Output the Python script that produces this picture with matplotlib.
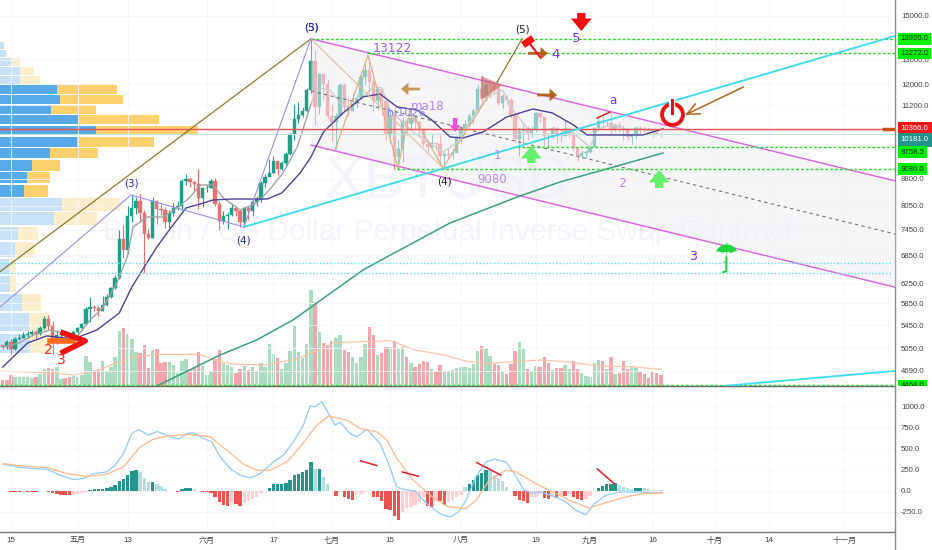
import numpy as np
import matplotlib
matplotlib.use('Agg')
import matplotlib.pyplot as plt
from matplotlib.lines import Line2D
from matplotlib.ticker import NullLocator
from matplotlib.transforms import Bbox, TransformedBbox, blended_transform_factory

plt.rcParams['font.family'] = ['Liberation Sans', 'Noto Sans CJK SC', 'DejaVu Sans']

# daily bars, day 0 = 15 April, one row of ten per line
closes = [5070, 5150, 5040, 5210, 5230, 5280, 5290, 5320, 5300, 5390,
          5560, 5440, 5150, 5270, 5270, 5280, 5240, 5320, 5390, 5470,
          5750, 5790, 5770, 5710, 5820, 5970, 6160, 6350, 7230, 6960,
          7800, 8000, 8190, 7870, 7350, 7260, 8190, 7970, 7950, 7630,
          7880, 7990, 8060, 8740, 8800, 8720, 8660, 8270, 8550, 8550,
          8730, 8110, 7670, 7800, 7810, 8000, 7930, 7630, 8010, 7930,
          8150, 8230, 8690, 8860, 8980, 9320, 9080, 9270, 9530, 10200,
          10700, 10860, 11000, 11780, 12930, 11130, 12390, 12000, 10800, 10600,
          10800, 11970, 11150, 10980, 11250, 11480, 12300, 12570, 12100, 11350,
          11800, 11350, 10200, 10850, 9450, 9690, 10630, 10530, 10750, 10590,
          10320, 9850, 9780, 9880, 9850, 9480, 9530, 9500, 9590, 10080,
          10400, 10530, 10820, 10980, 11800, 11470, 11980, 11970, 11850, 11280,
          11550, 11400, 10860, 10020, 10300, 10360, 10230, 10340, 10920, 10760,
          10130, 10130, 10400, 10140, 10130, 10360, 10170, 9720, 9490, 9580,
          9600, 9770, 10380, 10620, 10580, 10580, 10310, 10480, 10400, 10310,
          10100, 10160, 10410, 10360, 10360, 10310, 10260, 10190, 10160]
highs = [5110, 5190, 5200, 5240, 5290, 5320, 5350, 5360, 5360, 5440,
         5620, 5640, 5520, 5360, 5340, 5310, 5290, 5370, 5420, 5490,
         5780, 5970, 5820, 5800, 6000, 6030, 6180, 6420, 7450, 7570,
         8040, 8340, 8290, 8370, 7950, 7470, 8300, 8210, 8090, 8030,
         7950, 8140, 8170, 8800, 8950, 8820, 8730, 9090, 8580, 8620,
         8790, 8830, 8170, 7930, 7900, 8140, 8060, 7960, 8030, 8050,
         8220, 8310, 8730, 8950, 9390, 9470, 9340, 9320, 9610, 10210,
         11230, 11300, 11150, 11850, 13920, 13400, 12450, 12400, 12200, 11200,
         10900, 12050, 12050, 11450, 11650, 11600, 12370, 12820, 13122, 12200,
         11900, 11850, 11450, 11050, 11030, 9990, 10780, 10750, 11100, 10800,
         10650, 10340, 9900, 10180, 9900, 10180, 9620, 9720, 9730, 10130,
         10470, 10680, 10900, 11080, 11950, 12320, 12150, 12050, 12020, 11950,
         11620, 11590, 11450, 10880, 10440, 10510, 10470, 10470, 10960, 10960,
         10770, 10240, 10450, 10430, 10340, 10660, 10390, 10300, 9720, 9680,
         9680, 9800, 10430, 10780, 10800, 10630, 10900, 10560, 10600, 10480,
         10380, 10230, 10450, 10450, 10420, 10380, 10370, 10290, 10220]
lows = [5040, 5040, 4950, 5020, 5190, 5220, 5220, 5260, 5230, 5280,
        5380, 5370, 4960, 5120, 5230, 5220, 5180, 5200, 5310, 5370,
        5460, 5510, 5700, 5620, 5700, 5810, 5960, 6130, 6340, 6800,
        6890, 7640, 7840, 7670, 6470, 7230, 7250, 7580, 7820, 7500,
        7500, 7800, 7940, 7950, 8620, 8570, 8430, 7970, 8020, 8430,
        8530, 8040, 7450, 7590, 7460, 7780, 7800, 7520, 7510, 7700,
        7800, 8060, 8160, 8580, 8900, 8960, 8920, 9060, 9150, 9510,
        10000, 10560, 10780, 10940, 11650, 10500, 10870, 11400, 10700, 9950,
        9700, 10800, 11000, 10800, 10980, 11100, 11400, 11950, 11600, 11000,
        11070, 10850, 9980, 9900, 9080, 9080, 9300, 10120, 10350, 10330,
        10100, 9800, 9600, 9740, 9680, 9200, 9130, 9400, 9380, 9580,
        9900, 10350, 10500, 10570, 10960, 11200, 11370, 11450, 11650, 11200,
        11100, 11220, 10750, 9900, 9480, 9800, 9990, 10100, 10250, 10600,
        9800, 9750, 10060, 9890, 9930, 10120, 10060, 9650, 9330, 9400,
        9450, 9570, 9760, 10300, 10400, 10470, 10200, 10300, 10250, 9980,
        10000, 9870, 10050, 10200, 10260, 10260, 10080, 10160, 10100]
first_open = 5100

volumes = [18, 18, 32, 28, 27, 27, 27, 24, 26, 36,
           52, 54, 52, 58, 20, 23, 26, 30, 27, 33,
           90, 73, 43, 52, 74, 45, 58, 86, 164, 174,
           155, 142, 102, 98, 122, 55, 107, 110, 68, 72,
           72, 62, 38, 74, 80, 52, 58, 102, 60, 33,
           44, 80, 107, 70, 64, 58, 38, 52, 60, 48,
           56, 46, 68, 57, 125, 96, 84, 50, 70, 104,
           184, 103, 84, 126, 288, 251, 161, 130, 123, 134,
           144, 154, 108, 103, 88, 70, 86, 126, 178, 153,
           94, 98, 116, 118, 136, 114, 116, 88, 70, 56,
           66, 74, 72, 50, 42, 62, 44, 45, 48, 55,
           57, 57, 54, 66, 106, 120, 110, 90, 66, 63,
           44, 36, 65, 105, 131, 113, 52, 44, 60, 58,
           88, 68, 48, 54, 54, 64, 52, 74, 52, 40,
           30, 28, 68, 78, 76, 50, 88, 36, 38, 74,
           52, 56, 54, 42, 36, 24, 46, 40, 32]
volume_sides = ('rrrgggggrg' 'grrggrrggg' 'ggrrgggggr' 'gggrrrgrrr' 'gggggrrrgg'
                'grrgggrrgr' 'ggggggrggg' 'gggggrgrrr' 'ggrrggggrr' 'grrgrggrgr'
                'rrrgrrgggg' 'gggggrggrr' 'grrrggrggr' 'rrgrrggrrg' 'ggggrgrgrr'
                'rggrrrrrr')
volume_ma_days = [-3, 5, 11, 15, 21, 25, 29, 35, 45, 49, 53, 61, 69, 77, 80, 85, 91, 97,
                  104, 109, 114, 121, 127, 133, 141, 149, 156]
volume_ma = [45, 42, 38, 33, 48, 68, 86, 95, 95, 78, 66, 63, 83, 126, 131, 133, 136, 108,
             93, 75, 68, 73, 78, 73, 60, 58, 50]

ma_fast_days = [-2, 2, 5.3, 9.4, 12.5, 15.8, 19, 22, 25.4, 27.9, 29.3, 32.7, 36.5, 39.9, 43,
                45.4, 48.5, 51, 55, 59, 62, 65.3, 68.7, 71.8, 73.2, 74, 76.6, 79, 81.4, 84.5,
                87, 89, 91, 93.4, 96.5, 100, 103.7, 107, 110, 114.3, 118, 120.5, 124, 127,
                131, 135, 139, 140.7, 143.8, 147.4, 152, 155.8]
ma_fast = [5073, 5140, 5276, 5362, 5307, 5242, 5542, 5765, 6255, 6812, 7515, 7766, 7766, 7998,
           8290, 8623, 8623, 8263, 7945, 8130, 8483, 8970, 9767, 11134, 11770, 11850, 11770,
           11280, 11099, 11510, 11888, 11850, 11024, 10670, 10260, 9927, 9608, 9896, 10565,
           11510, 11770, 11024, 10366, 10326, 10366, 10226, 9758, 10326, 10496, 10366, 10326,
           10326]
ma18_days = [-2, 4, 8.6, 15, 20.6, 26, 29, 32, 35, 38, 42, 45.4, 48.5, 53, 58, 61.5, 65, 69.4,
             72, 75, 79.7, 84.5, 88.6, 92.7, 97.5, 101, 105.4, 108.5, 113.3, 119, 125.3, 130,
             135, 138.3, 141.4, 148, 151.7, 156.5]
ma18 = [4750, 5140, 5260, 5208, 5362, 5670, 6174, 6593, 7037, 7442, 7998, 8103, 8210, 8236,
        8236, 8236, 8400, 8970, 9451, 10260, 10917, 11510, 11618, 11134, 11024, 10670, 10092,
        10059, 10260, 10776, 11061, 10917, 10496, 10158, 10158, 10158, 10158, 10366]
ma_slow_days = [35, 50.2, 59, 67.7, 84.5, 89.3, 105.4, 121.5, 131.8, 143.8, 156.5]
ma_slow = [4464, 4941, 5192, 5542, 6528, 6767, 7614, 8290, 8709, 9117, 9576]

hist = [0, 0, -12, -12, -12, 0, -16, -16, -16, -4,
        -4, -12, -24, -40, -48, -48, -56, -52, -40, -28,
        -12, 12, 16, 16, 20, 28, 40, 68, 116, 140,
        188, 228, 248, 220, 152, 100, 100, 76, 56, 20,
        0, -8, -12, 20, 36, 36, 16, 0, -12, -20,
        -32, -80, -132, -168, -180, -144, -160, -180, -152, -128,
        -104, -80, -24, 0, 36, 76, 80, 84, 96, 132,
        180, 200, 216, 240, 344, 256, 260, 160, 80, 0,
        -64, -20, -72, -96, -112, -48, -40, -12, -8, -72,
        -80, -120, -220, -232, -300, -352, -248, -208, -192, -168,
        -140, -80, -180, -192, -120, -120, -168, -140, -112, -80,
        -48, 44, 80, 128, 180, 212, 248, 240, 180, 140,
        112, 48, 0, -60, -112, -120, -152, -80, -72, -40,
        -88, -100, -72, -88, -60, -60, -40, -72, -100, -112,
        -100, -60, 0, 28, 52, 80, 80, 88, 72, 48,
        28, 16, 32, 32, 28, 20, 12, 8, 4]
macd_days = [-1.8, 1.4, 5.4, 8.6, 11.8, 15, 17.4, 19.8, 23, 25, 27, 29, 30.6, 33, 35, 37.4, 40.2,
             42.2, 43.8, 46.2, 48.2, 50.2, 52.6, 55, 57.4, 59.8, 63, 65.4, 67.8, 70.2, 71.8, 73,
             74.6, 76.2, 77.8, 79, 81.4, 83, 85.4, 88.6, 90.6, 92.6, 94.2, 97, 99.8, 103, 105.4,
             107.4, 109.2, 111.6, 114, 116, 118.8, 120.8, 123.2, 125.2, 127.2, 130.8, 133.2,
             135.6, 138, 140, 142.8, 146, 150.8, 156.4]
macd = [314, 282, 262, 254, 183, 131, 143, 202, 222, 302, 441, 679, 727, 659, 703, 659, 611,
        679, 687, 619, 580, 401, 262, 183, 151, 202, 341, 421, 580, 778, 1004, 996,
        1056, 917, 778, 810, 679, 639, 727, 560, 322, 44, 16, -4, -155, -274, -314,
        -254, -115, 163, 341, 373, 341, 202, 4, -28, -16, -75, -135,
        -234, -286, -155, -56, -16, -16, -28]
signal_days = [-1.8, 2.2, 8.6, 13.4, 18.2, 23, 27, 31, 34.2, 37.4, 43, 47.8, 51.8, 55.8, 59, 62.2,
               66.2, 69.4, 73.4, 76.2, 80.6, 83.8, 87.8, 90.2, 92.6, 96.6, 100.6, 104.6, 109.2,
               111.6, 114.8, 118.8, 121.2, 126, 130, 134, 138.8, 142, 146.8, 151.6, 156.4]
signal = [322, 294, 274, 202, 171, 195, 282, 520, 611, 647, 667, 639, 480, 314, 242, 242,
          341, 520, 778, 885, 838, 738, 699, 599, 381, 123, -56, -187, -214,
          -115, 123, 242, 222, 83, -16, -115, -206, -155, -83, -36, -28]

# volume profile, rows from the top down
profile_blue = [12, 18, 35, 60, 60, 170, 180, 153, 233, 288, 232, 149, 97, 80, 72,
                185, 163, 53, 45, 27, 30, 65, 87, 90]
profile_total = [12, 18, 60, 103, 120, 352, 370, 288, 477, 593, 463, 295, 180, 150, 144,
                 360, 290, 113, 105, 45, 47, 123, 147, 155]
profile_bottom = 4951
profile_step = 369.5

price_ticks = [15000, 13000, 12000, 11200, 8800, 8050, 7450, 6850, 6250, 5850, 5450, 5050, 4690]
macd_ticks = [1000, 750, 500, 250, 0, -250]
date_ticks = [0, 16, 28, 47, 63, 77, 91, 108, 126, 139, 154, 169, 182, 200]
date_labels = ['15', '五月', '13', '六月', '17', '七月', '15', '八月', '19', '九月', '16', '十月', '14', '十一月']
price_tags = [(13920, '13920.0', '#00f000', 13920), (13272, '13272.0', '#00f000', 13272),
              (10366, '10366.0', '#f01818', 10366), (10181, '10181.0', '#23938b', 9993),
              (9758.5, '9758.5', '#00f000', 9607), (9080, '9080.0', '#00f000', 9080),
              (4464, '4464.0', '#00f000', 4464)]

days = np.arange(-2, 157)
closes = np.array(closes, dtype=float)
opens = np.r_[first_open, closes[:-1]]

W, H = 932, 550
XLIM = (-2.64, 212.2)
fig = plt.figure(figsize=(W / 100, H / 100), dpi=100, facecolor='white')
ax = fig.add_axes([0, (H - 386) / H, 895 / W, 386 / H])
ax_macd = fig.add_axes([0, (H - 531.5) / H, 895 / W, 145.5 / H])

ax.set_yscale('log')
ax.set_ylim(4464, 15807)
ax.set_xlim(*XLIM)
ax.patch.set_visible(False)

# volume profile and volume sit behind the price drawing
ax_vp = ax.twiny()
ax_vp.set_xlim(0, 895 * 3)
ax_vol = ax.twinx()
ax_vol.set_ylim(0, 386 * 3)
ax_vp.set_zorder(1)
ax_vol.set_zorder(2)
ax.set_zorder(3)
ax_vp.axis('off')
ax_vol.axis('off')
ax.yaxis.tick_right()

for i, (blue, total) in enumerate(zip(profile_blue, profile_total)):
    low = profile_bottom + (len(profile_blue) - 1 - i) * profile_step
    solid = 5 <= i <= 14
    ax_vp.barh(low + profile_step / 2, blue, height=profile_step * 0.88, color='#56aae8' if solid else '#c9e1f6')
    ax_vp.barh(low + profile_step / 2, total - blue, left=blue, height=profile_step * 0.88,
               color='#fcd16e' if solid else '#fbeecd')

vol_colors = ['#abdcc0' if s == 'g' else '#f3a5ae' for s in volume_sides]
ax_vol.bar(days, volumes, width=0.82, color=vol_colors)
ax_vol.plot(volume_ma_days, volume_ma, color='#f9c4a8', lw=0.9)

# watermark
for text, y, size in [('XBTUSD', 0.525, 44), ('Bitcoin / US Dollar Perpetual Inverse Swap Contract', 0.40, 21.5)]:
    ax.text(0.5, y, text, transform=ax.transAxes, color='#f3f5fb', fontsize=size, ha='center', va='center', zorder=0)

ax.grid(True, color='#f6f6f8', lw=0.6)
ax.set_axisbelow(True)

# candles
up = closes >= opens
body_low = np.minimum(opens, closes)
body_high = np.maximum(opens, closes)
candle_colors = np.where(up, '#1f9e88', '#ea6f72')
ax.vlines(days, lows, highs, colors=candle_colors, lw=0.8, zorder=3)
ax.bar(days, body_high - body_low, bottom=body_low, width=0.8, color=candle_colors,
       edgecolor=candle_colors, lw=0.3, zorder=3)

ax.plot(ma_fast_days, ma_fast, color='#a3a3a3', lw=1, zorder=3)

# parallel channel from the top
channel_days = [72, XLIM[1]]
channel_top = [13920, 8740]
channel_mid = [11730, 7345]
channel_low = [9828, 6171]
ax.fill_between(channel_days, channel_low, channel_top, color='#f0f0f5', alpha=0.55, lw=0, zorder=4)
ax.plot(channel_days, channel_top, color='#d966e0', lw=1.05, zorder=5)
ax.plot(channel_days, channel_low, color='#d966e0', lw=1.05, zorder=5)
ax.plot(channel_days, channel_mid, color='#777777', lw=0.8, ls=(0, (3, 3)), zorder=5)
ax.plot(ma_slow_days, ma_slow, color='#3d9f86', lw=1.1, zorder=5)
ax.plot(ma18_days, ma18, color='#4d4296', lw=1, zorder=5)

# levels
ax.plot([XLIM[0], XLIM[1]], [10181, 10181], color='#c3e5e2', lw=0.8, zorder=4.5)
ax.plot([XLIM[0], XLIM[1]], [10366, 10366], color='#f05050', lw=1, zorder=5)
green_dash = (0, (2, 1.5))
for day, level in [(72, 13920), (85.5, 13272), (121.5, 9758.5), (92.7, 9080), (XLIM[0], 4478)]:
    ax.plot([day, XLIM[1]], [level, level], color='#22dd22', lw=1, ls=green_dash, zorder=5)
for level in [6682, 6464]:
    ax.plot([XLIM[0], 211.5], [level, level], color='#55e5ee', lw=1, ls=(0, (1, 1.5)), zorder=5)

# drawings
ax.plot([XLIM[0], 72], [6491, 13920], color='#8a7d2a', lw=0.9, zorder=5)
ax.plot([XLIM[0], 28.8, 55.9, 72], [5782, 8346, 7515, 13920], color='#9d90e4', lw=0.8, zorder=5)
ax.plot([55.9, XLIM[1]], [7515, 14049], color='#3fdcea', lw=1.35, zorder=5)
ax.plot([171, XLIM[1]], [4464, 4690], color='#3fdcea', lw=1.35, zorder=5)
ax.plot([77.8, 85.7, 92.9, 95.8, 103.7, 116.7], [9671, 13201, 9117, 11025, 9117, 12084],
        color='#dcae7c', lw=0.85, zorder=5)
ax.plot([72, 103.7], [13920, 9117], color='#dcc0a2', lw=0.8, zorder=5)
ax.plot([116.7, 122.7], [12084, 13920], color='#8a7d2a', lw=0.9, zorder=5)
ax.fill([112.8, 118.1, 112.8], [12324, 11966, 11392], color='#c9605a', alpha=0.6, lw=0, zorder=5)
ax.plot([140.7, 143.8], [10740, 10953], color='#e02020', lw=1.1, zorder=5)


def fat_arrow(x0, p0, x1, p1, color, scale, tail=0.4):
    style = 'simple,head_length=0.6,head_width=1.0,tail_width=%s' % tail
    ax.annotate('', xy=(x1, p1), xytext=(x0, p0), zorder=6,
                arrowprops=dict(arrowstyle=style, color=color, mutation_scale=scale, shrinkA=0, shrinkB=0, lw=0))


fat_arrow(136.9, 15148, 136.9, 14282, '#f01010', 15)
fat_arrow(124.9, 9267, 124.9, 9798, '#66f06a', 15)
fat_arrow(155.6, 8540, 155.6, 9058, '#66f06a', 15)
fat_arrow(106.6, 10740, 106.6, 10260, '#f050e0', 8)
fat_arrow(98.2, 11810, 93.6, 11810, '#c8955a', 9, 0.22)
fat_arrow(126.3, 11580, 131.1, 11580, '#b0651f', 9, 0.22)
fat_arrow(124.1, 13272, 128.9, 13272, '#b0651f', 9, 0.22)
ax.annotate('', xy=(161.8, 10845), xytext=(175.8, 11888), zorder=6,
            arrowprops=dict(arrowstyle='->,head_length=0.9,head_width=0.4', color='#b5651d', lw=1.1, shrinkA=0, shrinkB=0))

# hammer and the red chevron are thick strokes
ax.plot([122.9, 125.3], [13641, 13950], color='#f01010', lw=5, solid_capstyle='butt', zorder=6)
ax.plot([124.6, 127], [13686, 13115], color='#f01010', lw=1.5, zorder=6)
ax.plot([9.4, 14.9], [5173, 5173], color='#ff6a1a', lw=4, zorder=6)
ax.plot([12.5, 17.8, 12.5], [5311, 5173, 4990], color='#f01010', lw=4, zorder=6)

# power icon and umbrella
ax.plot([158.7], [10880], marker='o', ms=15, mfc='none', mec='#ee1111', mew=2.8, zorder=6)
ax.plot([158.7, 158.7], [11390, 10880], color='white', lw=4.5, zorder=6.1)
ax.plot([158.7, 158.7], [11390, 10900], color='#ee1111', lw=2.2, zorder=6.2)
ax.text(171.7, 6860, '\u2602', color='#1fd63c', fontsize=20, ha='center', va='center', family='DejaVu Sans', zorder=6)
ax.plot([171.7, 171.7, 171], [6800, 6500, 6480], color='#1fd63c', lw=1.4, zorder=6)

labels = [(28.8, 8652, '(3)', '#2b2b9b', 7.5), (55.9, 7201, '(4)', '#2b2b9b', 7.5), (72, 14422, '(3)', '#2b2b9b', 7.5),
          (72, 14422, '(5)', '#2b2b9b', 7.5), (104, 8709, '(4)', '#222222', 7.5), (122.7, 14370, '(5)', '#222222', 7.5),
          (8.9, 5023, '2', '#f03020', 10), (12, 4862, '3', '#f03020', 10), (91.5, 13463, '13122', '#9a5ae6', 9),
          (100.1, 11170, 'ma18', '#b98aec', 8.5), (94.8, 10917, 'hi1026', '#8a8ae8', 8), (115.5, 8766, '9080', '#b98aec', 8.5),
          (116.7, 9483, '1', '#b98aec', 8.5), (146.7, 8652, '2', '#b98aec', 9), (163.7, 6812, '3', '#8a2be2', 9),
          (130.6, 13201, '4', '#8a2be2', 9.5), (135.7, 13920, '5', '#8a2be2', 9.5), (144.5, 11355, 'a', '#8a2be2', 8.5)]
for day, price, text, color, size in labels:
    ax.text(day, price, text, color=color, fontsize=size, ha='center', va='center', family='DejaVu Sans', zorder=7)

# price axis
ax.set_xticks(date_ticks)
ax.tick_params(axis='x', length=0, labelbottom=False)
ax.set_yticks(price_ticks, ['%.1f' % t for t in price_ticks])
ax.yaxis.set_minor_locator(NullLocator())
ax.tick_params(axis='y', length=0, pad=4.3, labelsize=5.6, labelcolor='#444444')
for spine in ax.spines.values():
    spine.set_visible(False)

# last price marker on the scale
ax.plot([209.1, XLIM[1]], [10366, 10366], color='#c8501e', lw=2.5, solid_capstyle='butt', zorder=7)

tag_trans = blended_transform_factory(ax.transAxes, ax.transData)
tag_clip = TransformedBbox(Bbox([[0, 0], [1.05, 1]]), ax.transAxes)
for level, text, color, placed in price_tags:
    ink = 'white' if color in ('#f01818', '#23938b') else '#123312'
    pad = 0.42 if color in ('#f01818', '#23938b') else 0.3
    t = ax.text(1.0065, placed, text, transform=tag_trans, color=ink, fontsize=5.6, ha='left', va='center', zorder=8,
                bbox=dict(boxstyle='square,pad=%s' % pad, facecolor=color, edgecolor='none'))
    t.set_clip_box(tag_clip)
    t.set_clip_on(True)

# macd pane
hist = np.array(hist, dtype=float)
growing = np.abs(hist) >= np.abs(np.r_[0, hist[:-1]])
hist_colors = []
for value, strong in zip(hist, growing):
    if value >= 0:
        hist_colors.append('#26968a' if strong else '#b2dfdb')
    else:
        hist_colors.append('#ef5350' if strong else '#ffcdd2')
ax_macd.bar(days, hist, width=0.82, color=hist_colors, zorder=2)
ax_macd.plot(macd_days, macd, color='#90caf9', lw=0.9, zorder=3)
ax_macd.plot(signal_days, signal, color='#ffb98c', lw=0.9, zorder=3)
for x_pair, y_pair in [([83.9, 87.8], [353, 298]), ([93.9, 97.8], [222, 171]),
                       ([111.8, 117.6], [333, 183]), ([140.7, 144.8], [258, 83])]:
    ax_macd.plot(x_pair, y_pair, color='#e02030', lw=1.1, zorder=4)

ax_macd.set_xlim(*XLIM)
ax_macd.set_ylim(-485, 1242)
ax_macd.yaxis.tick_right()
ax_macd.set_yticks(macd_ticks, ['%.1f' % t for t in macd_ticks])
ax_macd.set_xticks(date_ticks, date_labels)
ax_macd.tick_params(axis='y', length=0, pad=4.3, labelsize=5.6, labelcolor='#444444')
ax_macd.tick_params(axis='x', length=0, pad=4, labelsize=5.8, labelcolor='#444444')
ax_macd.grid(True, color='#f6f6f8', lw=0.6)
ax_macd.set_axisbelow(True)
for side in ['left', 'right', 'top']:
    ax_macd.spines[side].set_visible(False)
ax_macd.spines['bottom'].set_color('#777777')
ax_macd.spines['bottom'].set_linewidth(1)

# pane separator and the scale line run the full height
fig.add_artist(Line2D([0, 895 / W], [(H - 386) / H] * 2, color='#666666', lw=1))
fig.add_artist(Line2D([895 / W] * 2, [0, 1], color='#888888', lw=1))

fig.savefig('out.png', dpi=100)
